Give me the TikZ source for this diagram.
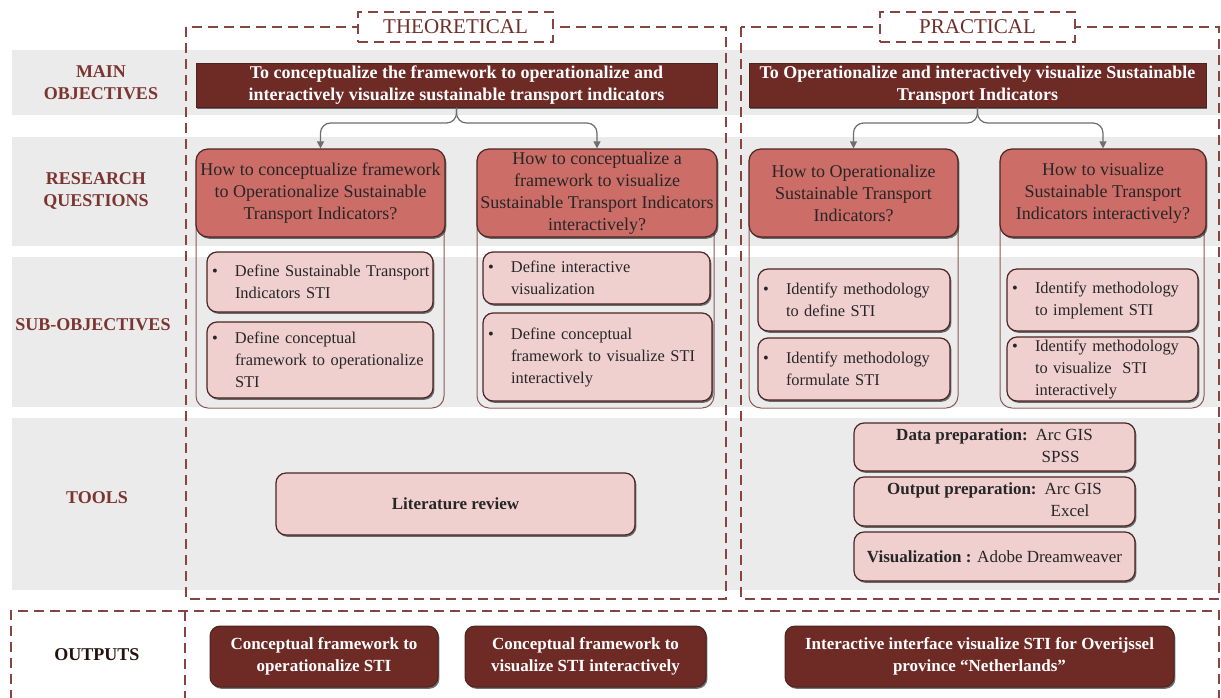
\documentclass[tikz,border=0pt]{standalone}
\usepackage{fontspec}
\setmainfont{Liberation Serif}
\usetikzlibrary{arrows.meta,shadows}

\definecolor{mainred}{HTML}{6E2A25}
\definecolor{rqfill}{HTML}{CD6D68}
\definecolor{subfill}{HTML}{F0CFCF}
\definecolor{edge}{HTML}{4A2522}
\definecolor{band}{HTML}{EBEBEB}
\definecolor{dashc}{HTML}{874542}
\definecolor{rowtxt}{HTML}{7B3430}
\definecolor{linkc}{HTML}{6D6D6D}
\definecolor{contc}{HTML}{8A5A56}

% first line of a bulleted item, and its continuation lines
\newcommand{\bl}[1]{\makebox[11.5pt][l]{\textbullet}\mbox{#1}}
\newcommand{\il}[1]{\hspace*{11.5pt}\mbox{#1}}

\tikzset{
  shade/.style={drop shadow={shadow xshift=0.7pt,shadow yshift=-0.9pt,opacity=0.55,fill=black}},
  mainbox/.style={fill=mainred,draw=edge,line width=0.5pt,text=white,font=\bfseries\fontsize{9}{11}\selectfont,align=center,inner sep=0pt,shade},
  rqbox/.style={fill=rqfill,draw=edge,line width=0.6pt,rounded corners=6pt,text=black!85,font=\fontsize{9}{11}\selectfont,align=center,inner sep=0pt,shade},
  subbox/.style={fill=subfill,draw=edge,line width=0.6pt,rounded corners=5pt,text=black!85,font=\fontsize{8.2}{11}\selectfont,align=left,inner xsep=2.5pt,inner ysep=0pt,shade},
  toolbox/.style={fill=subfill,draw=edge,line width=0.6pt,rounded corners=5pt,text=black!85,font=\fontsize{8.5}{11}\selectfont,align=center,inner sep=0pt,shade},
  outbox/.style={fill=mainred,draw=edge,line width=0.5pt,rounded corners=5pt,text=white,font=\bfseries\fontsize{8.5}{11}\selectfont,align=center,inner sep=0pt,shade},
  rowlabel/.style={text=rowtxt,font=\bfseries\fontsize{9}{11}\selectfont,align=center},
  frame/.style={draw=dashc,line width=0.75pt,dash pattern=on 5pt off 3pt},
  tag/.style={frame,fill=white,text=rowtxt!90!black,font=\fontsize{10.5}{11}\selectfont,minimum width=97.5pt,minimum height=15pt,inner sep=0pt},
  container/.style={draw=contc,line width=0.5pt,rounded corners=6pt},
  link/.style={draw=linkc,line width=0.6pt,rounded corners=5pt,-{Triangle[length=3.5pt,width=3.5pt]}},
  rowband/.style={fill=band,draw=none}
}

\begin{document}
\begin{tikzpicture}[x=0.5pt,y=-0.5pt]
\useasboundingbox (0,0) rectangle (1221,697);

% horizontal grey bands for the four upper rows
\fill[rowband] (12,50) rectangle (1221,115);
\fill[rowband] (12,137) rectangle (1221,246);
\fill[rowband] (12,257) rectangle (1221,407);
\fill[rowband] (12,418) rectangle (1221,590);

% row headings
\node[rowlabel] (lmain) at (101,83) {MAIN\\OBJECTIVES};
\node[rowlabel] (lrq) at (96,191) {RESEARCH\\QUESTIONS};
\node[rowlabel] (lsub) at (93,325) {SUB-OBJECTIVES};
\node[rowlabel] (ltools) at (97,498) {TOOLS};
\node[rowlabel,text=black!70!rowtxt] (lout) at (97,655) {OUTPUTS};

% dashed frames: theoretical and practical columns, outputs row
\draw[frame] (186,27) rectangle (726,599);
\draw[frame] (741,27) rectangle (1219,599);
\draw[frame] (11,700) -- (11,611) -- (1219,611) -- (1219,700);
\draw[frame] (185,611) -- (185,700);
\node[tag] (theo) at (455.5,27) {THEORETICAL};
\node[tag] (prac) at (977.5,27) {PRACTICAL};

% containers linking questions to their sub-objectives
\draw[container] (196,190) rectangle (444,408);
\draw[container] (477,190) rectangle (714,408);
\draw[container] (749,190) rectangle (958,408);
\draw[container] (1000,190) rectangle (1204,408);

% main objectives
\node[mainbox,minimum width=260.5pt,minimum height=22pt] (mo1) at (456.5,85)
  {To conceptualize the framework to operationalize and\\interactively visualize sustainable transport indicators};
\node[mainbox,minimum width=228.5pt,minimum height=22pt] (mo2) at (977.5,85)
  {To Operationalize and interactively visualize Sustainable\\Transport Indicators};

% research questions
\node[rqbox,minimum width=124.5pt,minimum height=44pt] (rq1) at (320.5,193)
  {How to conceptualize framework\\to Operationalize Sustainable\\Transport Indicators?};
\node[rqbox,minimum width=120pt,minimum height=44pt] (rq2) at (597,193)
  {How to conceptualize a\\framework to visualize\\Sustainable Transport Indicators\\interactively?};
\node[rqbox,minimum width=104.5pt,minimum height=44pt] (rq3) at (853.5,193)
  {How to Operationalize\\Sustainable Transport\\Indicators?};
\node[rqbox,minimum width=103pt,minimum height=44pt] (rq4) at (1103,193)
  {How to visualize\\Sustainable Transport\\Indicators interactively?};

% branching connectors
\coordinate (b1) at (456.5,123);
\coordinate (b2) at (977.5,123);
\draw[link] (mo1.south) -- (b1) -| (rq1.north);
\draw[link] (mo1.south) -- (b1) -| (rq2.north);
\draw[link] (mo2.south) -- (b2) -| (rq3.north);
\draw[link] (mo2.south) -- (b2) -| (rq4.north);

% sub-objectives
\node[subbox,text width=108pt,minimum height=30pt] (s1) at (320,282)
  {\bl{Define Sustainable Transport}\\\il{Indicators STI}};
\node[subbox,text width=108pt,minimum height=38pt] (s2) at (320,360)
  {\bl{Define conceptual}\\\il{framework to operationalize}\\\il{STI}};
\node[subbox,text width=108.5pt,minimum height=26pt] (s3) at (596.5,278)
  {\bl{Define interactive}\\\il{visualization}};
\node[subbox,text width=109.5pt,minimum height=44pt] (s4) at (597.5,357)
  {\bl{Define conceptual}\\\il{framework to visualize STI}\\\il{interactively}};
\node[subbox,text width=91pt,minimum height=31pt] (s5) at (854,300)
  {\bl{Identify methodology}\\\il{to define STI}};
\node[subbox,text width=91pt,minimum height=31pt] (s6) at (854,369)
  {\bl{Identify methodology}\\\il{formulate STI}};
\node[subbox,text width=90.5pt,minimum height=31pt] (s7) at (1102.5,300)
  {\bl{Identify methodology}\\\il{to implement STI}};
\node[subbox,text width=90.5pt,minimum height=32pt] (s8) at (1102.5,369)
  {\bl{Identify methodology}\\\il{to visualize\ \ STI}\\\il{interactively}};

% tools
\node[toolbox,minimum width=179.5pt,minimum height=31pt,font=\bfseries\fontsize{8.5}{11}\selectfont] (lit) at (455.5,504)
  {Literature review};
\node[toolbox,minimum width=140.5pt,minimum height=24pt] (t1) at (994.5,447)
  {\begin{tabular}{@{}r@{\hspace{4pt}}l@{}}\textbf{Data preparation:} & Arc GIS\\ & \hspace{3pt}SPSS\end{tabular}};
\node[toolbox,minimum width=140.5pt,minimum height=24.5pt] (t2) at (994.5,501.5)
  {\begin{tabular}{@{}r@{\hspace{4pt}}l@{}}\textbf{Output preparation:} & Arc GIS\\ & \hspace{3pt}Excel\end{tabular}};
\node[toolbox,minimum width=140.5pt,minimum height=24.5pt] (t3) at (994.5,556.5)
  {\textbf{Visualization :} Adobe Dreamweaver};

% outputs
\node[outbox,minimum width=114pt,minimum height=30.5pt] (o1) at (324,656.5)
  {Conceptual framework to\\operationalize STI};
\node[outbox,minimum width=120.5pt,minimum height=30.5pt] (o2) at (585.5,656.5)
  {Conceptual framework to\\visualize STI interactively};
\node[outbox,minimum width=194.5pt,minimum height=30.5pt] (o3) at (979.5,656.5)
  {Interactive interface visualize STI for Overijssel\\province “Netherlands”};
\end{tikzpicture}
\end{document}
